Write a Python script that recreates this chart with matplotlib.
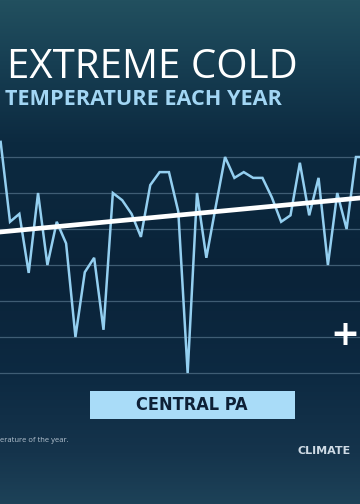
import numpy as np
import matplotlib
matplotlib.use("Agg")
import matplotlib.pyplot as plt
from matplotlib.colors import LinearSegmentedColormap
from matplotlib.patches import Rectangle

# coldest temperature of each year (deg F)
years = list(range(1979, 2019))
coldest = [12.1, 1.0, 2.1, -6.1, 5.0, -5.0, 1.0, -2.0, -15.0, -6.0,
           -4.0, -14.0, 5.0, 4.0, 2.1, -1.1, 6.1, 7.9, 7.9, 2.4,
           -20.0, 5.0, -4.0, 3.1, 10.0, 7.1, 7.9, 7.1, 7.1, 4.4,
           1.0, 1.9, 9.2, 1.9, 7.1, -5.0, 5.0, 0.0, 10.0, 10.0]
trend_years = [1978, 2019]
trend_vals = [-0.53, 4.5]
grid_vals = [10, 5, 0, -5, -10, -15, -20]

W, H = 360, 504
fig = plt.figure(figsize=(3.6, 5.04), dpi=100)

# background gradient
bg = fig.add_axes([0, 0, 1, 1])
bg.set_axis_off()
cmap = LinearSegmentedColormap.from_list("bg", [
    (0.00, "#22505f"),
    (0.12, "#173f53"),
    (0.28, "#0c2a40"),
    (0.55, "#0a2339"),
    (0.75, "#0d2a42"),
    (0.90, "#15344c"),
    (1.00, "#1d4258"),
])
grad = np.linspace(0, 1, 256).reshape(-1, 1)
bg.imshow(grad, cmap=cmap, aspect="auto", extent=[0, 1, 0, 1], origin="upper")
bg.set_xlim(0, 1)
bg.set_ylim(0, 1)

def fx(px):
    return px / W

def fy(py):
    return 1 - py / H

# chart axes: pixel rows 130..380, gridline 10 at 157, -20 at 373
ax = fig.add_axes([0, fy(380), 1, (380 - 130) / H])
ax.patch.set_alpha(0)
i0 = (0 - 0.65) / 9.35
i1 = (360 - 0.65) / 9.35
ax.set_xlim(years[0] + i0, years[0] + i1)
ax.set_ylim(10 - (380 - 157) / 7.2, 10 + (157 - 130) / 7.2)
for g in grid_vals:
    ax.axhline(g, color="#4d6b82", lw=0.9, alpha=0.8, zorder=1)
ax.plot(years, coldest, color="#94cff0", lw=1.8, zorder=3,
        solid_joinstyle="miter")
ax.plot(trend_years, trend_vals, color="white", lw=3.4, zorder=4,
        solid_capstyle="butt")
ax.set_axis_off()

# titles
fig.text(fx(7), fy(78), "EXTREME COLD", color="white", fontsize=29,
         family="Open Sans", va="baseline", ha="left")
fig.text(fx(5), fy(105), "TEMPERATURE EACH YEAR", color="#a2d6f4",
         fontsize=15.6, fontweight="bold", family="Open Sans",
         va="baseline", ha="left")

# location label box
fig.patches.append(Rectangle((fx(90), fy(419)), fx(295) - fx(90),
                             fy(391) - fy(419), transform=fig.transFigure,
                             facecolor="#a9dcf8", edgecolor="none"))
fig.text(fx(192), fy(405), "CENTRAL PA", color="#0e2036", fontsize=13,
         fontweight="bold", family="DejaVu Sans", fontstretch="condensed",
         ha="center", va="center")

fig.text(fx(359), fy(335), "+", color="white", fontsize=25,
         fontweight="bold", family="DejaVu Sans", ha="right", va="center")

fig.text(fx(0), fy(441), "erature of the year.", color="#b4c2cf",
         fontsize=5.5, family="Open Sans", ha="left", va="center")
fig.text(fx(297), fy(454), "CLIMATE", color="#cfdbe5", fontsize=8,
         fontweight="bold", family="DejaVu Sans", ha="left", va="baseline")

fig.savefig("out.png", dpi=100)
